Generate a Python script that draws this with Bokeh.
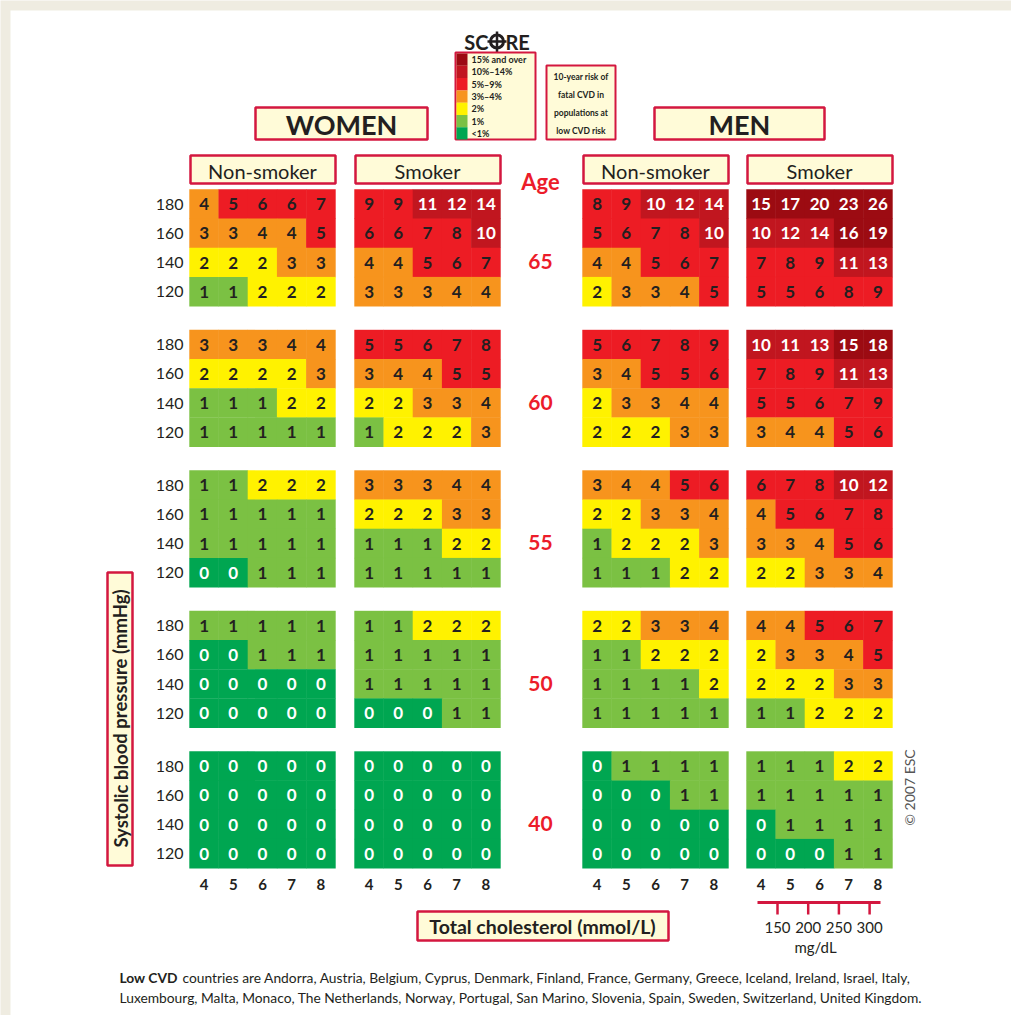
import numpy as np
from bokeh.plotting import figure
from bokeh.models import Range1d, ColumnDataSource
from bokeh.core.properties import value
from bokeh.embed import file_html
from bokeh.resources import INLINE

# ---------------- data ----------------
ages = [65, 60, 55, 50, 40]
sbp_levels = [180, 160, 140, 120]
cholesterol = [4, 5, 6, 7, 8]
mgdl_ticks = [150, 200, 250, 300]

women_nonsmoker = [
    [[4, 5, 6, 6, 7], [3, 3, 4, 4, 5], [2, 2, 2, 3, 3], [1, 1, 2, 2, 2]],
    [[3, 3, 3, 4, 4], [2, 2, 2, 2, 3], [1, 1, 1, 2, 2], [1, 1, 1, 1, 1]],
    [[1, 1, 2, 2, 2], [1, 1, 1, 1, 1], [1, 1, 1, 1, 1], [0, 0, 1, 1, 1]],
    [[1, 1, 1, 1, 1], [0, 0, 1, 1, 1], [0, 0, 0, 0, 0], [0, 0, 0, 0, 0]],
    [[0, 0, 0, 0, 0], [0, 0, 0, 0, 0], [0, 0, 0, 0, 0], [0, 0, 0, 0, 0]],
]
women_smoker = [
    [[9, 9, 11, 12, 14], [6, 6, 7, 8, 10], [4, 4, 5, 6, 7], [3, 3, 3, 4, 4]],
    [[5, 5, 6, 7, 8], [3, 4, 4, 5, 5], [2, 2, 3, 3, 4], [1, 2, 2, 2, 3]],
    [[3, 3, 3, 4, 4], [2, 2, 2, 3, 3], [1, 1, 1, 2, 2], [1, 1, 1, 1, 1]],
    [[1, 1, 2, 2, 2], [1, 1, 1, 1, 1], [1, 1, 1, 1, 1], [0, 0, 0, 1, 1]],
    [[0, 0, 0, 0, 0], [0, 0, 0, 0, 0], [0, 0, 0, 0, 0], [0, 0, 0, 0, 0]],
]
men_nonsmoker = [
    [[8, 9, 10, 12, 14], [5, 6, 7, 8, 10], [4, 4, 5, 6, 7], [2, 3, 3, 4, 5]],
    [[5, 6, 7, 8, 9], [3, 4, 5, 5, 6], [2, 3, 3, 4, 4], [2, 2, 2, 3, 3]],
    [[3, 4, 4, 5, 6], [2, 2, 3, 3, 4], [1, 2, 2, 2, 3], [1, 1, 1, 2, 2]],
    [[2, 2, 3, 3, 4], [1, 1, 2, 2, 2], [1, 1, 1, 1, 2], [1, 1, 1, 1, 1]],
    [[0, 1, 1, 1, 1], [0, 0, 0, 1, 1], [0, 0, 0, 0, 0], [0, 0, 0, 0, 0]],
]
men_smoker = [
    [[15, 17, 20, 23, 26], [10, 12, 14, 16, 19], [7, 8, 9, 11, 13], [5, 5, 6, 8, 9]],
    [[10, 11, 13, 15, 18], [7, 8, 9, 11, 13], [5, 5, 6, 7, 9], [3, 4, 4, 5, 6]],
    [[6, 7, 8, 10, 12], [4, 5, 6, 7, 8], [3, 3, 4, 5, 6], [2, 2, 3, 3, 4]],
    [[4, 4, 5, 6, 7], [2, 3, 3, 4, 5], [2, 2, 2, 3, 3], [1, 1, 2, 2, 2]],
    [[1, 1, 1, 2, 2], [1, 1, 1, 1, 1], [0, 1, 1, 1, 1], [0, 0, 0, 1, 1]],
]

legend_labels = ["15% and over", "10%\u201314%", "5%\u20139%", "3%\u20134%", "2%", "1%", "<1%"]
legend_levels = [15, 10, 5, 3, 2, 1, 0]
info_lines = ["10-year risk of", "fatal CVD in", "populations at", "low CVD risk"]
countries_line1 = "countries are Andorra, Austria, Belgium, Cyprus, Denmark, Finland, France, Germany, Greece, Iceland, Ireland, Israel, Italy,"
countries_line2 = "Luxembourg, Malta, Monaco, The Netherlands, Norway, Portugal, San Marino, Slovenia, Spain, Sweden, Switzerland, United Kingdom."

# ---------------- style ----------------
FONT = value("Lato")
CRIMSON = "#d3173f"
CREAM = "#fffbd8"
BEIGE = "#efece1"
RED_TXT = "#ec1c2a"
INK = "#231f20"


def risk_color(v):
    if v >= 15:
        return "#9c0b12"
    if v >= 10:
        return "#c1161f"
    if v >= 5:
        return "#ed1c24"
    if v >= 3:
        return "#f7941d"
    if v == 2:
        return "#fff200"
    if v == 1:
        return "#7bc143"
    return "#00a651"


def text_color(v):
    return "white" if (v == 0 or v >= 10) else INK


p = figure(width=1011, height=1015, x_range=Range1d(0, 1011), y_range=Range1d(1015, 0),
           output_backend="svg", toolbar_location=None, min_border=0,
           min_border_left=0, min_border_right=0, min_border_top=0, min_border_bottom=0)
p.xaxis.visible = False
p.yaxis.visible = False
p.grid.visible = False
p.outline_line_color = None
p.background_fill_color = BEIGE
p.border_fill_color = BEIGE

# white panel
p.quad(left=[10], right=[1017], top=[10], bottom=[1016], fill_color="white", line_color=None)

# ---------------- grid geometry ----------------
CELL = 29.2
panels = [("Non-smoker", women_nonsmoker, 189), ("Smoker", women_smoker, 354),
          ("Non-smoker", men_nonsmoker, 582), ("Smoker", men_smoker, 746)]
block_tops = [189 + i * 140.5 for i in range(len(ages))]

xs, ys, vals, fills, tcols = [], [], [], [], []
for title, data, x0 in panels:
    for ai, age in enumerate(ages):
        for si, s in enumerate(sbp_levels):
            for ci, c in enumerate(cholesterol):
                v = data[ai][si][ci]
                xs.append(x0 + (ci + 0.5) * CELL)
                ys.append(block_tops[ai] + (si + 0.5) * CELL)
                vals.append(str(v))
                fills.append(risk_color(v))
                tcols.append(text_color(v))
src = ColumnDataSource(dict(x=xs, y=ys, t=vals, f=fills, tc=tcols))
p.rect(x="x", y="y", width=CELL + 0.4, height=CELL + 0.4, fill_color="f", line_color=None, source=src)
p.text(x="x", y="y", text="t", text_color="tc", text_font=FONT, text_font_size="17px",
       text_font_style="bold", text_align="center", text_baseline="middle", source=src)

# panel header boxes
hx = [x0 + 2.5 * CELL for _, _, x0 in panels]
p.quad(left=[x0 + 1 for _, _, x0 in panels], right=[x0 + 5 * CELL for _, _, x0 in panels],
       top=[155] * 4, bottom=[183] * 4, fill_color=CREAM, line_color=CRIMSON, line_width=2.5)
p.text(x=hx, y=[170] * 4, text=[t for t, _, _ in panels], text_font=FONT, text_font_size="20px",
       text_color=INK, text_align="center", text_baseline="middle")

# sex boxes
p.quad(left=[255, 654], right=[427, 824], top=[107, 107], bottom=[139, 139],
       fill_color=CREAM, line_color=CRIMSON, line_width=2.5)
p.text(x=[341, 739], y=[124, 124], text=["WOMEN", "MEN"], text_font=FONT, text_font_size="27px",
       text_font_style="bold", text_color=INK, text_align="center", text_baseline="middle")

# SBP labels
sbp_y, sbp_t = [], []
for ai in range(len(ages)):
    for si, s in enumerate(sbp_levels):
        sbp_y.append(block_tops[ai] + (si + 0.5) * CELL)
        sbp_t.append(str(s))
p.text(x=[183] * len(sbp_y), y=sbp_y, text=sbp_t, text_font=FONT, text_font_size="16px",
       text_color=INK, text_align="right", text_baseline="middle")

# Age labels
p.text(x=[540], y=[181], text=["Age"], text_font=FONT, text_font_size="22px", text_font_style="bold",
       text_color=RED_TXT, text_align="center", text_baseline="middle")
p.text(x=[540] * len(ages), y=[t + 72 for t in block_tops], text=[str(a) for a in ages],
       text_font=FONT, text_font_size="21px", text_font_style="bold", text_color=RED_TXT,
       text_align="center", text_baseline="middle")

# cholesterol tick labels
cx, ct = [], []
for _, _, x0 in panels:
    for ci, c in enumerate(cholesterol):
        cx.append(x0 + (ci + 0.5) * CELL)
        ct.append(str(c))
p.text(x=cx, y=[884] * len(cx), text=ct, text_font=FONT, text_font_size="15px", text_font_style="bold",
       text_color=INK, text_align="center", text_baseline="middle")

# mg/dL ruler under men smoker panel
mx0 = panels[3][2]
tick_x = [mx0 + 31 + (m - mgdl_ticks[0]) / 50 * 30.7 for m in mgdl_ticks]
p.segment(x0=[mx0 + 11], y0=[902], x1=[mx0 + 134], y1=[902], line_color=CRIMSON, line_width=3)
p.segment(x0=tick_x, y0=[902] * 4, x1=tick_x, y1=[914] * 4, line_color=CRIMSON, line_width=2.5)
p.text(x=tick_x, y=[927] * 4, text=[str(m) for m in mgdl_ticks], text_font=FONT, text_font_size="15px",
       text_color=INK, text_align="center", text_baseline="middle")
p.text(x=[mx0 + 69], y=[946], text=["mg/dL"], text_font=FONT, text_font_size="15px",
       text_color=INK, text_align="center", text_baseline="middle")

# axis title boxes
p.quad(left=[417], right=[668], top=[911], bottom=[940], fill_color=CREAM, line_color=CRIMSON, line_width=2.5)
p.text(x=[542], y=[926], text=["Total cholesterol (mmol/L)"], text_font=FONT, text_font_size="19.5px",
       text_font_style="bold", text_color=INK, text_align="center", text_baseline="middle")
p.quad(left=[107], right=[132], top=[572], bottom=[865], fill_color=CREAM, line_color=CRIMSON, line_width=2.5)
p.text(x=[120], y=[718], text=["Systolic blood pressure (mmHg)"], angle=[np.pi / 2], text_font=FONT,
       text_font_size="18.5px", text_font_style="bold", text_color=INK,
       text_align="center", text_baseline="middle")

# copyright
p.text(x=[909], y=[787], text=["\u00a9 2007 ESC"], angle=[np.pi / 2], text_font=FONT, text_font_size="14px",
       text_color="#555555", text_align="center", text_baseline="middle")

# SCORE logo
p.text(x=[488], y=[41], text=["SC"], text_font=FONT, text_font_size="20px", text_font_style="bold",
       text_color=INK, text_align="right", text_baseline="middle")
p.text(x=[505], y=[41], text=["RE"], text_font=FONT, text_font_size="20px", text_font_style="bold",
       text_color=INK, text_align="left", text_baseline="middle")
p.scatter(x=[496.5], y=[41], size=13, marker="circle", fill_color=None, line_color=INK, line_width=3)
p.segment(x0=[496.5, 487], y0=[31, 41], x1=[496.5, 506], y1=[52, 41], line_color=INK, line_width=2.5)

# legend box
ROW = 12.3
p.quad(left=[455], right=[535], top=[52], bottom=[139], fill_color=CREAM, line_color=CRIMSON, line_width=2)
sw_top = [53 + i * ROW for i in range(len(legend_levels))]
p.quad(left=[456] * 7, right=[467] * 7, top=sw_top, bottom=[t + ROW for t in sw_top],
       fill_color=[risk_color(v) for v in legend_levels], line_color=None)
p.text(x=[471] * 7, y=[t + ROW / 2 for t in sw_top], text=legend_labels, text_font=FONT,
       text_font_size="9px", text_font_style="bold", text_color=INK,
       text_align="left", text_baseline="middle")

# info box
p.quad(left=[546], right=[615], top=[65], bottom=[139], fill_color=CREAM, line_color=CRIMSON, line_width=2)
p.text(x=[580.5] * 4, y=[76, 94, 112, 130], text=info_lines, text_font=FONT, text_font_size="8.5px",
       text_font_style="bold", text_color=INK, text_align="center", text_baseline="middle")

# footer
p.text(x=[119], y=[977], text=["Low CVD"], text_font=FONT, text_font_size="13.8px", text_font_style="bold",
       text_color=INK, text_align="left", text_baseline="middle")
p.text(x=[182], y=[977], text=[countries_line1], text_font=FONT, text_font_size="13.8px",
       text_color=INK, text_align="left", text_baseline="middle")
p.text(x=[119], y=[997], text=[countries_line2], text_font=FONT, text_font_size="13.8px",
       text_color=INK, text_align="left", text_baseline="middle")

open("out.html", "w").write(file_html(p, INLINE))
